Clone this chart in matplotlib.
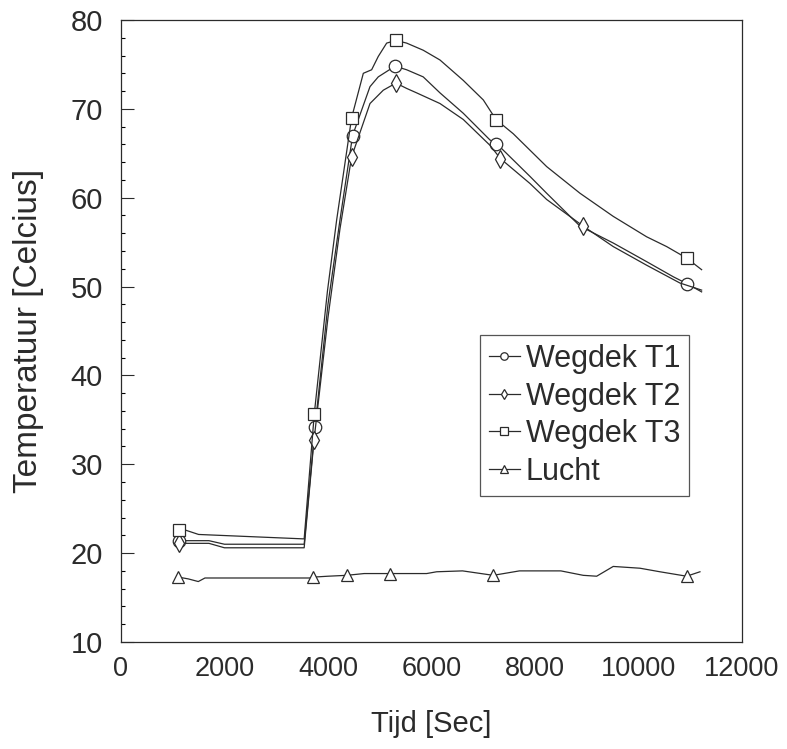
import numpy as np
import matplotlib.pyplot as plt
from matplotlib.ticker import MultipleLocator

plt.rcParams['font.family'] = ['Liberation Sans', 'DejaVu Sans']

# Wegdek T1 (circles)
t1_x = [1120, 1700, 2000, 3540, 3750, 4000, 4232, 4476, 4812, 4972, 5295, 5520,
        5840, 6164, 6615, 7130, 7256, 7903, 8226, 8870, 9512, 10158, 10673, 10944, 11220]
t1_y = [21.4, 21.4, 21.0, 21.0, 34.2, 48.0, 57.5, 67.0, 72.5, 73.6, 74.8, 74.4,
        73.6, 71.8, 69.5, 66.5, 66.1, 62.4, 60.5, 56.8, 54.9, 52.8, 51.1, 50.3, 49.4]
t1_marks = [1120, 3750, 4476, 5295, 7256, 10944]

# Wegdek T2 (diamonds)
t2_x = [1120, 1700, 2000, 3540, 3730, 4000, 4232, 4457, 4812, 5069, 5314, 5520,
        5713, 6164, 6615, 7130, 7333, 7903, 8226, 8932, 9512, 10158, 10800, 11220]
t2_y = [21.1, 21.1, 20.6, 20.6, 32.7, 46.5, 56.5, 64.6, 70.6, 72.1, 72.9, 72.3,
        71.8, 70.6, 68.8, 65.9, 64.4, 61.6, 59.8, 56.8, 54.5, 52.4, 50.4, 49.6]
t2_marks = [1120, 3730, 4457, 5314, 7333, 8932]

# Wegdek T3 (squares)
t3_x = [1120, 1240, 1500, 3540, 3736, 3990, 4168, 4457, 4683, 4844, 4972, 5134,
        5314, 5520, 5840, 6164, 6615, 7002, 7246, 7580, 8226, 8870, 9512, 10158,
        10544, 10931, 11220]
t3_y = [22.6, 22.6, 22.1, 21.6, 35.7, 49.5, 57.5, 69.0, 74.0, 74.4, 75.9, 77.4,
        77.7, 77.4, 76.6, 75.5, 73.2, 71.0, 68.8, 67.2, 63.5, 60.5, 57.9, 55.6,
        54.5, 53.2, 51.9]
t3_marks = [1120, 3736, 4457, 5314, 7246, 10931]

# Lucht (triangles)
lu_x = [1107, 1300, 1494, 1623, 3652, 3716, 4000, 4361, 4700, 5198, 5907, 6100,
        6600, 7194, 7700, 8500, 8932, 9192, 9512, 10029, 10415, 10931, 11188]
lu_y = [17.3, 17.1, 16.8, 17.2, 17.2, 17.3, 17.4, 17.5, 17.7, 17.7, 17.7, 17.9,
        18.0, 17.5, 18.0, 18.0, 17.5, 17.4, 18.5, 18.3, 17.9, 17.4, 17.9]
lu_marks = [1107, 3716, 4361, 5198, 7194, 10931]

series = [
    ('Wegdek T1', t1_x, t1_y, t1_marks, 'o', 9),
    ('Wegdek T2', t2_x, t2_y, t2_marks, 'd', 9),
    ('Wegdek T3', t3_x, t3_y, t3_marks, 's', 9),
    ('Lucht', lu_x, lu_y, lu_marks, '^', 9),
]

ink = '#2b2b2b'
fig = plt.figure(figsize=(7.87, 7.49), dpi=100)
ax = fig.add_axes([0.1537, 0.1429, 0.7891, 0.8304])

for label, x, y, marks, mk, ms in series:
    idx = [i for i, v in enumerate(x) if v in marks]
    ax.plot(x, y, color=ink, lw=0.9, marker=mk, markevery=idx, ms=ms,
            mfc='white', mec=ink, mew=0.9, label=label)

ax.set_xlim(0, 12000)
ax.set_ylim(10, 80)
ax.xaxis.set_major_locator(MultipleLocator(2000))
ax.yaxis.set_major_locator(MultipleLocator(10))
ax.yaxis.set_minor_locator(MultipleLocator(2))
ax.tick_params(axis='y', which='major', direction='in', length=9, width=0.8,
               pad=13, labelsize=21, colors=ink, left=True, right=False)
ax.tick_params(axis='y', which='minor', direction='in', length=3, width=0.8,
               left=True, right=False)
ax.tick_params(axis='x', length=0, pad=10, labelsize=19.5, colors=ink)
for s in ax.spines.values():
    s.set_color(ink)
    s.set_linewidth(0.9)

ax.set_xlabel('Tijd [Sec]', fontsize=21, color=ink, labelpad=20)
ax.set_ylabel('Temperatuur [Celcius]', fontsize=24, color=ink, labelpad=19)

leg = ax.legend(loc='upper left', bbox_to_anchor=(0.578, 0.494), fontsize=22,
                frameon=True, fancybox=False, edgecolor=ink, labelspacing=0.25,
                handlelength=1.0, handletextpad=0.2, borderpad=0.3,
                borderaxespad=0, markerscale=0.6)
leg.get_frame().set_linewidth(0.9)
for t in leg.get_texts():
    t.set_color(ink)

fig.savefig('out.png', dpi=100)
